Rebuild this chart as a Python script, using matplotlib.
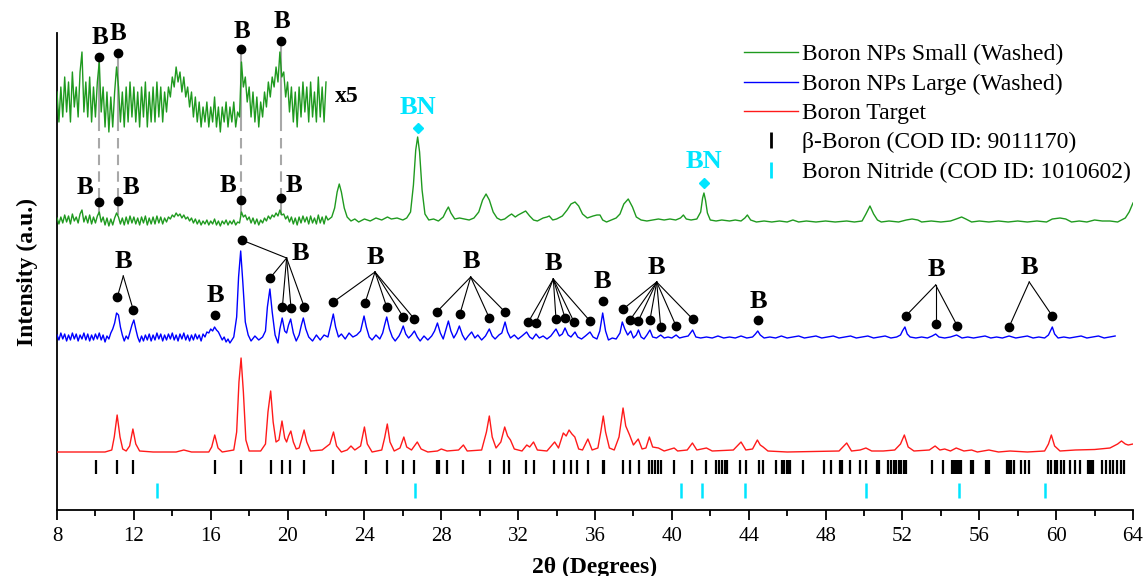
import numpy as np
import matplotlib.pyplot as plt
from matplotlib.lines import Line2D

plt.rcParams['font.family'] = ['Liberation Serif', 'DejaVu Serif']

# ---- data (intensity in arbitrary units, relative to each pattern's own baseline) ----

# Boron NPs Small (Washed): noisy low-angle part read every 0.1 deg (8 - 22)
green_lo_x = np.round(np.arange(8.0, 22.05, 0.1), 1)
green_lo_y = [2, -4, 3, -3, 5, -2, 4, -4, 6, -1,
              3, -3, 6, 10, -2, 4, -3, 5, -4, 3,
              -3, 4, 8, -2, 3, -5, 2, -6, 1, -5,
              2, 7, 3, -4, 2, -5, 3, -4, 4, -3,
              3, -4, 2, -5, 3, -3, 4, -5, 2, -4,
              3, -4, 4, -3, 3, -4, 2, -2, 3, 1,
              5, 3, 7, 4, 6, 2, 5, 1, 3, -1,
              2, -3, 1, -4, 0, -5, -1, -4, 0, -5,
              -1, -4, 1, -5, -1, -6, -1, -4, 0, -5,
              -1, -4, 0, -5, -2, -3, 8, 3, 5, 0,
              3, -3, 2, -4, 1, -5, 0, -3, 2, -1,
              4, 1, 5, 3, 7, 4, 10, 5, 6, 1,
              4, -2, 3, -4, 2, -5, 3, -3, 4, -2,
              3, -4, 4, -3, 2, -4, 5, -3, 3, -4,
              4]
green_hi_x = [22.1, 22.3, 22.45, 22.58, 22.69, 22.8, 22.95, 23.1, 23.3, 23.5, 23.7, 24.0, 24.3, 24.6,
              24.9, 25.2, 25.4, 25.7, 26.0, 26.2, 26.4, 26.55, 26.67, 26.77, 26.87, 27.0, 27.15, 27.35,
              27.6, 27.85, 28.1, 28.25, 28.37, 28.5, 28.7, 28.95, 29.2, 29.45, 29.7, 29.95, 30.15, 30.33,
              30.5, 30.7, 30.9, 31.1, 31.3, 31.5, 31.66, 31.85, 32.0, 32.2, 32.39, 32.6, 32.8, 33.0, 33.3,
              33.5, 33.62, 33.8, 34.0, 34.3, 34.55, 34.75, 34.96, 35.15, 35.35, 35.6, 35.9, 36.1, 36.26,
              36.4, 36.6, 36.85, 37.1, 37.3, 37.5, 37.73, 37.95, 38.15, 38.4, 38.7, 39.0, 39.3, 39.6, 39.9,
              40.2, 40.45, 40.6, 40.75, 41.0, 41.3, 41.5, 41.6, 41.67, 41.75, 41.85, 42.0, 42.3, 42.6, 43.0,
              43.3, 43.6, 43.8, 43.93, 44.1, 44.4, 44.8, 45.2, 45.6, 46.0, 46.3, 46.6, 47.0, 47.5, 48.0,
              48.5, 49.1, 49.5, 49.9, 50.1, 50.31, 50.5, 50.7, 50.9, 51.3, 51.8, 52.2, 52.5, 52.8, 53.0,
              53.5, 54.0, 54.5, 54.8, 55.08, 55.3, 55.6, 56.0, 56.5, 57.0, 57.5, 58.0, 58.5, 59.0, 59.5,
              59.8, 60.2, 60.5, 60.8, 61.2, 61.6, 62.0, 62.4, 62.8, 63.2, 63.4, 63.6, 63.8, 64.0]
green_hi_y = [0, 3, 12, 28, 36, 28, 12, 3, -1, 1, -2, 1, -1, 2,
              0, 3, 1, 2, 0, 2, 8, 35, 70, 83, 68, 30, 6, 0,
              1, -1, 3, 9, 13, 7, 1, 2, 1, 0, 2, 8, 20, 26,
              20, 8, 2, 0, 1, 4, 6, 3, 5, 7, 9, 4, 0, -1, 2,
              3, 4, 0, 1, 4, 10, 16, 18, 14, 6, 2, 4, 5, 5,
              0, -2, 0, 2, 6, 16, 21, 13, 3, 0, -1, 0, 1, 0, 1,
              0, 2, 5, 1, 0, 1, 8, 22, 27, 20, 7, 0, -1, 0, -1,
              0, -1, 2, 5, 0, -2, -1, -2, -1, -2, 0, -2, -1, -2, -1,
              -2, -1, -2, -1, 6, 14, 6, 0, -2, -1, -2, 0, 1, 0, -2,
              -1, -2, -1, 1, 3, 1, -2, -1, -2, -1, -2, -1, -2, -1, -2,
              1, 2, 1, -2, -1, -2, 0, -1, -1, -2, 0, 2, 8, 17]

# Boron NPs Large (Washed)
blue_lo_x = np.round(np.arange(8.0, 17.05, 0.1), 1)
blue_lo_y = [2, -3, 4, -2, 3, -4, 2, -3, 4, -2,
             3, -4, 2, -2, 4, -3, 3, -4, 2, -3,
             3, -2, 4, -3, 2, -5, 1, -2, 4, 8,
             14, 24, 22, 10, 2, -4, 1, -2, 5, 12,
             17, 8, 0, -5, 1, -4, 2, -3, 3, -4,
             2, -3, 4, -2, 3, -4, 2, -3, 3, -2,
             4, -3, 2, -4, 3, -2, 4, -3, 2, -4,
             2, -3, 3, -2, 2, -4, 3, 0, 5, 4,
             8, 6, 10, 7, 5, 1, -3, 0, -5, -2,
             -6]
blue_hi_x = [17.2, 17.35, 17.45, 17.56, 17.67, 17.8, 17.95, 18.1, 18.3, 18.5, 18.7, 18.85, 18.95, 19.08,
             19.2, 19.35, 19.5, 19.6, 19.72, 19.85, 19.95, 20.05, 20.16, 20.3, 20.45, 20.6, 20.72, 20.82,
             20.95, 21.1, 21.3, 21.5, 21.7, 21.9, 22.1, 22.25, 22.38, 22.5, 22.65, 22.8, 23.0, 23.2, 23.4,
             23.6, 23.8, 23.98, 24.1, 24.25, 24.4, 24.6, 24.8, 24.95, 25.05, 25.16, 25.3, 25.45, 25.6, 25.8,
             25.9, 26.02, 26.15, 26.3, 26.45, 26.6, 26.75, 26.9, 27.1, 27.3, 27.5, 27.65, 27.8, 27.95, 28.1,
             28.25, 28.37, 28.5, 28.65, 28.8, 28.94, 29.1, 29.25, 29.4, 29.58, 29.75, 29.9, 30.1, 30.3, 30.5,
             30.65, 30.8, 31.0, 31.15, 31.32, 31.45, 31.6, 31.8, 32.0, 32.2, 32.44, 32.6, 32.75, 32.93, 33.1,
             33.3, 33.5, 33.7, 33.97, 34.15, 34.3, 34.44, 34.6, 34.75, 34.96, 35.1, 35.3, 35.5, 35.74, 35.9,
             36.1, 36.25, 36.4, 36.55, 36.7, 36.9, 37.1, 37.3, 37.42, 37.55, 37.7, 37.86, 38.0, 38.15, 38.26,
             38.4, 38.55, 38.7, 38.86, 39.0, 39.2, 39.42, 39.6, 39.8, 40.0, 40.22, 40.4, 40.6, 40.85, 41.08,
             41.25, 41.5, 41.8, 42.1, 42.4, 42.7, 43.0, 43.3, 43.6, 43.9, 44.2, 44.35, 44.47, 44.6, 44.8,
             45.1, 45.4, 45.7, 46.0, 46.3, 46.6, 46.9, 47.2, 47.5, 47.8, 48.1, 48.4, 48.7, 49.0, 49.3, 49.6,
             49.9, 50.2, 50.5, 50.8, 51.1, 51.4, 51.7, 51.9, 52.0, 52.13, 52.25, 52.4, 52.7, 53.0, 53.3,
             53.55, 53.73, 53.9, 54.2, 54.5, 54.82, 55.1, 55.4, 55.7, 56.0, 56.3, 56.6, 56.9, 57.2, 57.55,
             57.9, 58.2, 58.5, 58.8, 59.1, 59.4, 59.6, 59.7, 59.8, 59.92, 60.1, 60.4, 60.7, 61.0, 61.3, 61.6,
             61.9, 62.2, 62.5, 62.8, 63.07]
blue_hi_y = [0, 20, 60, 86, 55, 15, 2, -4, 1, -3, 0, 6, 30, 48,
             25, 2, -6, 8, 19, 6, 4, 12, 18, 4, -4, 2, 12, 19,
             8, 0, -4, 2, -3, 2, 0, 12, 23, 10, 0, 3, -2, 4, 0,
             2, 6, 21, 10, 0, -3, 2, -2, 4, 12, 20, 8, 0, -4, 1,
             5, 11, 3, -1, 2, 6, 0, -4, 1, -3, 1, 6, 14, 4, -2,
             8, 16, 6, -1, 4, 11, 2, -3, 1, 5, -1, 2, -3, 1, 8,
             1, -2, 2, 4, 15, 5, -1, 2, -2, 1, 5, 0, -2, 3, -1,
             1, -2, 1, 8, 1, 3, 9, 2, 0, 5, 0, -2, 1, 5, 0,
             -2, 6, 24, 6, -3, -1, -2, 4, 15, 8, 2, 6, -1, 2, 7,
             0, -2, 2, 7, 0, -1, 2, -1, 0, -1, 2, -1, 0, 1, 7,
             0, -1, 0, -1, 1, -1, 0, -1, 1, -1, 0, 3, 6, 2, -1,
             0, -1, 1, -1, 0, 1, -1, 0, 1, -1, 0, 1, -1, 0, 1, -1,
             0, 1, -1, 0, 1, -1, 0, 2, 6, 10, 3, 0, -1, 0, -1,
             1, 3, 0, -1, 0, 2, -1, 0, -1, 0, 1, -1, 0, -1, 1,
             -1, 0, 1, -1, 0, -1, 2, 6, 10, 3, -1, 0, -1, 0, 1, -1,
             0, 1, -1, 0, 1]

# Boron Target
red_x = [8.0, 10.5, 10.85, 10.98, 11.13, 11.28, 11.42, 11.6, 11.78, 11.95, 12.1, 12.3, 13.0, 14.2, 14.6,
         15.0, 15.9, 16.05, 16.21, 16.38, 16.6, 17.2, 17.35, 17.47, 17.58, 17.7, 17.83, 18.0, 18.6, 18.85,
         18.98, 19.12, 19.25, 19.4, 19.55, 19.71, 19.85, 19.95, 20.05, 20.17, 20.3, 20.45, 20.6, 20.75,
         20.86, 21.0, 21.2, 21.8, 22.2, 22.39, 22.55, 22.8, 23.1, 23.3, 23.5, 23.8, 24.0, 24.15, 24.4,
         24.9, 25.05, 25.19, 25.33, 25.55, 25.85, 26.05, 26.2, 26.45, 26.75, 26.95, 27.3, 27.8, 28.0,
         28.3, 28.9, 29.15, 29.35, 30.1, 30.35, 30.5, 30.65, 30.85, 31.1, 31.3, 31.45, 31.6, 31.8, 32.2,
         32.45, 32.6, 32.8, 33.0, 33.5, 33.9, 34.1, 34.35, 34.5, 34.65, 34.8, 34.95, 35.15, 35.35, 35.63,
         35.85, 36.15, 36.3, 36.43, 36.55, 36.75, 37.0, 37.25, 37.46, 37.6, 37.8, 38.0, 38.25, 38.45,
         38.65, 38.83, 39.0, 39.3, 39.6, 40.12, 40.3, 40.8, 41.07, 41.3, 41.8, 42.1, 43.2, 43.6, 43.85,
         44.2, 44.45, 44.6, 44.75, 45.0, 46.0, 48.7, 49.1, 49.35, 49.8, 50.1, 50.4, 51.0, 51.6, 51.9,
         52.1, 52.3, 52.6, 53.4, 53.7, 53.95, 54.2, 54.5, 54.8, 55.2, 55.6, 55.9, 56.5, 57.0, 57.6, 58.5,
         59.4, 59.6, 59.75, 59.92, 60.2, 61.0, 62.0, 62.8, 63.2, 63.4, 63.6, 63.75, 64.0]
red_y = [0, 0, 2, 15, 37, 15, 3, 1, 6, 23, 8, 1, 0, 0, 2,
         0, 0, 5, 17, 4, 0, 2, 20, 70, 94, 60, 12, 1, 1, 8,
         40, 61, 30, 10, 12, 31, 14, 10, 16, 21, 10, 3, 4, 14,
         22, 10, 1, 2, 8, 20, 6, 0, 2, 6, 2, 6, 25, 8, 0,
         2, 14, 28, 10, 1, 4, 15, 5, 2, 10, 3, 0, 1, 3,
         1, 2, 7, 1, 2, 20, 36, 15, 4, 10, 25, 16, 12, 3, 1,
         7, 5, 10, 2, 1, 10, 4, 19, 16, 22, 18, 15, 3, 2, 13,
         2, 4, 20, 36, 20, 4, 2, 15, 44, 26, 17, 7, 13, 3,
         4, 15, 5, 4, 1, 4, 1, 2, 9, 2, 4, 1, 2, 10, 2,
         3, 12, 7, 5, 1, 0, 1, 9, 1, 2, 4, 1, 1, 2, 8,
         17, 5, 1, 2, 6, 2, 3, 1, 4, 1, 2, 0, 2, 0, 1, 0,
         1, 8, 17, 6, 1, 2, 2.5, 4, 8, 11, 8, 7, 8]

# reference patterns (2theta positions)
beta_boron_ref = [10.04, 11.13, 11.95, 16.21, 17.58, 19.13, 19.71, 20.13, 20.86, 22.39, 24.06, 25.19,
                  26.01, 26.59, 27.80, 27.87, 28.29, 29.15, 30.54, 31.25, 31.52, 32.40, 32.80, 33.88,
                  34.39, 34.77, 35.04, 35.63, 36.40, 36.45, 37.46, 37.84, 38.27, 38.81, 38.96, 39.11,
                  39.28, 39.44, 40.12, 41.07, 41.76, 42.32, 42.47, 42.62, 42.77, 42.88, 43.57, 43.85,
                  44.51, 44.75, 45.42, 45.74, 45.83, 45.97, 46.10, 46.17, 46.81, 47.93, 48.30, 48.75,
                  48.82, 48.88, 49.26, 49.80, 50.11, 50.66, 50.77, 51.25, 51.40, 51.55, 51.68, 51.81,
                  51.95, 52.10, 52.19, 53.53, 54.13, 54.56, 54.66, 54.75, 54.84, 54.94, 55.03, 55.59,
                  55.65, 56.34, 56.43, 56.52, 57.46, 57.55, 57.65, 57.80, 58.17, 58.39, 58.58, 59.57,
                  59.74, 59.93, 60.07, 60.26, 60.41, 60.73, 60.97, 61.23, 61.66, 61.76, 61.85, 61.94,
                  62.41, 62.60, 62.79, 62.97, 63.16, 63.35, 63.53]
bn_ref = [13.23, 26.65, 40.49, 41.57, 43.82, 50.08, 54.94, 59.42]

# "B" peak assignments on the large-NP pattern: label, fan-out point, marked peaks
blue_groups = [
    ((11.45, 248), (11.45, 234), [(11.14, 213), (11.97, 200)]),
    ((16.22, 215), None, [(16.21, 195)]),
    ((20.65, 257), (19.95, 252), [(17.61, 270), (19.09, 232), (19.73, 203), (20.18, 202), (20.87, 203)]),
    ((24.55, 253), (24.55, 238), [(22.38, 208), (24.03, 207), (25.16, 203), (26.02, 193), (26.60, 191)]),
    ((29.58, 248), (29.53, 233), [(27.76, 198), (28.97, 196), (30.50, 192), (31.32, 198)]),
    ((33.83, 247), (33.83, 231), [(32.53, 188), (32.93, 187), (33.97, 191), (34.44, 192), (34.91, 188),
                                   (35.74, 189)]),
    ((36.40, 228), None, [(36.40, 209)]),
    ((39.21, 243), (39.21, 228), [(37.47, 201), (37.82, 190), (38.25, 189), (38.86, 190), (39.42, 183),
                                   (40.22, 184), (41.08, 191)]),
    ((44.50, 208), None, [(44.50, 190)]),
    ((53.78, 240), (53.73, 225), [(52.17, 194), (53.73, 186), (54.86, 184)]),
    ((58.60, 243), (58.60, 228), [(57.55, 183), (59.80, 194)]),
]
# "B" marks on the small-NP pattern and its x5 zoom
small_peaks = [10.20, 11.17, 17.60, 19.64]
top_dot_y = [453, 457, 461, 469]
top_lab = [(10.24, 473), (11.19, 477), (17.64, 478), (19.69, 489)]
low_dot_y = [308, 309, 310, 312]
low_lab = [(9.46, 322), (11.84, 323), (16.92, 324), (20.33, 325)]
bn_peaks = [(26.77, 382, 403), (41.67, 327, 348)]

# ---- layout ----
off_red, off_blue, off_green, off_x5 = 58, 173, 290, 408
green_c, blue_c, red_c, cyan_c = '#1f9a1f', '#0000ff', '#ff1a1a', '#00e5ff'

fig = plt.figure(figsize=(11.43, 5.76), dpi=100)
ax = fig.add_axes([57 / 1143, 66 / 576, 1076 / 1143, 477 / 576])

gx = np.concatenate([green_lo_x, green_hi_x])
gy = np.concatenate([green_lo_y, green_hi_y]) + off_green
bx = np.concatenate([blue_lo_x, blue_hi_x])
by = np.concatenate([blue_lo_y, blue_hi_y]) + off_blue

ax.plot(gx, gy, color=green_c, lw=1.0, label='Boron NPs Small (Washed)', zorder=3)
ax.plot(bx, by, color=blue_c, lw=1.0, label='Boron NPs Large (Washed)', zorder=3)
ax.plot(red_x, np.array(red_y) + off_red, color=red_c, lw=1.0, label='Boron Target', zorder=3)
# x5 magnified low-angle part of the small-NP pattern
ax.plot(green_lo_x, np.array(green_lo_y) * 5 + off_x5, color=green_c, lw=1.0, zorder=3)
ax.text(22.45, 413, 'x5', fontsize=17, fontweight='bold', va='center', ha='left')

# reference sticks
ax.vlines(beta_boron_ref, 36, 50, color='black', lw=1.6)
ax.vlines(bn_ref, 12, 27, color=cyan_c, lw=1.8)

# assignments on large NPs
for lab, apex, dots in blue_groups:
    ax.text(lab[0], lab[1], 'B', fontsize=19, fontweight='bold', ha='center', va='center')
    for d in dots:
        if apex is not None:
            ax.plot([apex[0], d[0]], [apex[1], d[1]], color='black', lw=0.8, zorder=4)
        ax.plot(d[0], d[1], 'o', color='black', ms=6, zorder=5)

# assignments on small NPs + guide lines to the x5 trace
for i, px in enumerate(small_peaks):
    ax.plot([px, px], [top_dot_y[i], 380], color='#a8a8a8', lw=1.5, zorder=1)
    ax.plot([px, px], [372, low_dot_y[i]], color='#a8a8a8', lw=1.5, ls=(0, (5, 3)), zorder=1)
    ax.plot([px, px], [low_dot_y[i], 296], color='#a8a8a8', lw=1.5, zorder=1)
    ax.plot(px, top_dot_y[i], 'o', color='black', ms=6, zorder=5, clip_on=False)
    ax.plot(px, low_dot_y[i], 'o', color='black', ms=6, zorder=5)
    ax.text(top_lab[i][0], top_lab[i][1], 'B', fontsize=18, fontweight='bold', ha='center',
            va='center', clip_on=False)
    ax.text(low_lab[i][0], low_lab[i][1], 'B', fontsize=18, fontweight='bold', ha='center', va='center')

for px, dy, ty in bn_peaks:
    ax.plot(px, dy, 'D', color=cyan_c, ms=5, zorder=5)
    ax.text(px, ty, 'BN', color=cyan_c, fontsize=19, fontweight='bold', ha='center', va='center')

# axes styling
ax.set_xlim(8, 64)
ax.set_ylim(0, 477)
ax.set_xticks(np.arange(8, 65, 4))
ax.set_xticks(np.arange(8, 65, 2), minor=True)
ax.set_yticks([])
ax.tick_params(axis='x', which='major', length=7, width=1.3, labelsize=15, pad=5)
ax.tick_params(axis='x', which='minor', length=4, width=1.3)
for s in ['top', 'right']:
    ax.spines[s].set_visible(False)
for s in ['left', 'bottom']:
    ax.spines[s].set_linewidth(1.3)
ax.set_xlabel('2θ (Degrees)', fontsize=17, fontweight='bold', labelpad=8)
ax.set_ylabel('Intensity (a.u.)', fontsize=17, fontweight='bold', labelpad=14)

handles, labels = ax.get_legend_handles_labels()
handles += [Line2D([], [], ls='none', marker='|', ms=11, mew=2, color='black'),
            Line2D([], [], ls='none', marker='|', ms=11, mew=2, color=cyan_c)]
labels += ['β-Boron (COD ID: 9011170)', 'Boron Nitride (COD ID: 1010602)']
fig.legend(handles, labels, loc='upper left', bbox_to_anchor=(744 / 1143, 1 - 44 / 576),
           frameon=False, fontsize=17, handlelength=2.3, handletextpad=0.15, labelspacing=0.33,
           borderpad=0, borderaxespad=0)

fig.savefig('out.png', dpi=100)
